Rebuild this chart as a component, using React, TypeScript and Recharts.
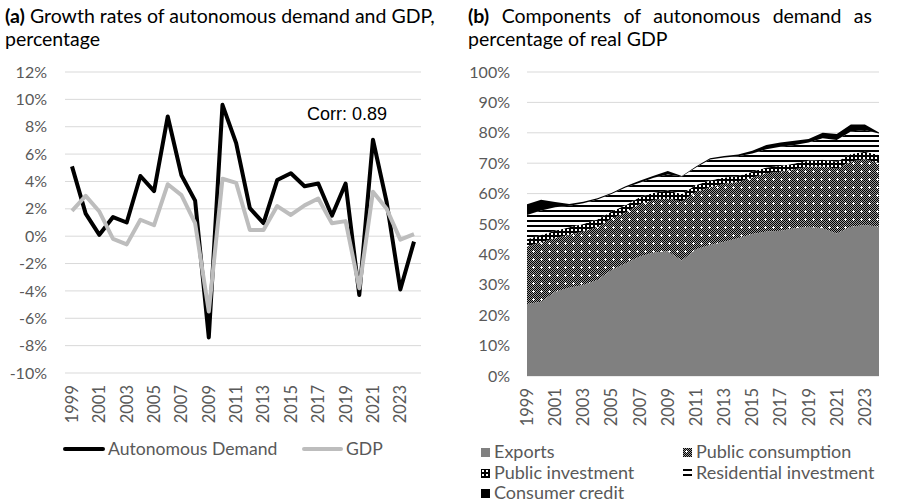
import { LineChart, Line, AreaChart, Area, XAxis, YAxis, CartesianGrid } from 'recharts'

const years = ['1999', '2000', '2001', '2002', '2003', '2004', '2005', '2006', '2007', '2008', '2009', '2010', '2011', '2012', '2013', '2014', '2015', '2016', '2017', '2018', '2019', '2020', '2021', '2022', '2023', '2024']

// panel (a): growth rates, %
const autonomousDemand = [5.1, 1.65, 0.1, 1.4, 1.0, 4.4, 3.3, 8.75, 4.45, 2.6, -7.4, 9.6, 6.8, 2.05, 0.95, 4.1, 4.6, 3.65, 3.85, 1.5, 3.85, -4.3, 7.05, 2.5, -3.9, -0.4]
const gdp = [1.85, 2.95, 1.8, -0.2, -0.6, 1.2, 0.8, 3.8, 3.0, 0.95, -5.5, 4.2, 3.9, 0.45, 0.45, 2.2, 1.55, 2.25, 2.75, 0.95, 1.1, -3.8, 3.25, 2.0, -0.25, 0.15]
const growthTicks = [-10, -8, -6, -4, -2, 0, 2, 4, 6, 8, 10, 12]

// panel (b): components, % of real GDP
const exportsShare = [23.7, 24.4, 27.7, 29.0, 29.9, 31.6, 34.9, 37.0, 39.3, 40.6, 41.0, 38.0, 41.7, 43.1, 44.2, 45.3, 46.7, 47.5, 47.8, 48.6, 49.1, 48.6, 46.9, 49.1, 49.7, 49.1]
const publicConsumption = [18.9, 19.6, 17.6, 17.5, 17.6, 17.4, 16.8, 16.8, 17.2, 17.3, 17.4, 19.4, 18.8, 19.0, 19.0, 18.5, 18.5, 19.2, 19.4, 19.4, 19.7, 20.3, 21.3, 21.5, 21.6, 21.0]
const publicInvestment = [2.4, 2.4, 2.5, 2.4, 2.5, 2.5, 2.4, 2.4, 2.3, 2.4, 2.6, 2.5, 2.3, 2.2, 2.1, 2.0, 2.0, 1.9, 1.9, 1.9, 2.0, 2.2, 2.3, 2.4, 2.5, 2.6]
const residentialInvestment = [8.0, 8.0, 7.7, 7.1, 6.8, 6.6, 5.8, 5.8, 4.8, 4.9, 5.3, 5.7, 5.8, 6.9, 6.6, 6.5, 6.0, 6.0, 6.3, 6.1, 6.0, 7.1, 7.1, 7.4, 7.1, 7.1]
const consumerCredit = [3.5, 3.6, 1.7, 0.6, 0.5, 0.4, 0.3, 0.4, 0.6, 0.7, 1.1, 0.2, 0.3, 0.4, 0.5, 0.6, 0.9, 1.4, 1.4, 1.4, 1.2, 1.8, 2.0, 2.3, 1.8, 0.3]
const shareTicks = [0, 10, 20, 30, 40, 50, 60, 70, 80, 90, 100]

const growthData = years.map((year, i) => ({
  year,
  'Autonomous Demand': autonomousDemand[i],
  GDP: gdp[i]
}))

const shareData = years.map((year, i) => ({
  year,
  Exports: exportsShare[i],
  'Public consumption': publicConsumption[i],
  'Public investment': publicInvestment[i],
  'Residential investment': residentialInvestment[i],
  'Consumer credit': consumerCredit[i]
}))

const FONT = 'Lato, "Noto Sans", sans-serif'
const GREY_TEXT = '#595959'

const YearTick = (props: any) => {
  const { x, y, payload } = props
  return (
    <text
      x={x}
      y={y}
      transform={`rotate(-90 ${x} ${y})`}
      textAnchor='end'
      dy='0.36em'
      fill={GREY_TEXT}
      fontSize={16.5}
      fontFamily={FONT}
    >
      {payload.value}
    </text>
  )
}

const Patterns = () => (
  <svg width={0} height={0} style={{ position: 'absolute' }}>
    <defs>
      <pattern id='chk' width='2' height='2' patternUnits='userSpaceOnUse'>
        <rect width='2' height='2' fill='#9a9a9a' />
        <rect width='1' height='1' fill='#000' />
        <rect x='1' y='1' width='1' height='1' fill='#000' />
      </pattern>
      <pattern id='pcPat' width='8' height='8' patternUnits='userSpaceOnUse'>
        <rect width='8' height='8' fill='url(#chk)' />
        <rect x='3' y='2' width='1' height='3' fill='#fff' />
        <rect x='2' y='3' width='3' height='1' fill='#fff' />
      </pattern>
      <pattern id='piPat' width='4' height='4' patternUnits='userSpaceOnUse'>
        <rect width='4' height='4' fill='#000' />
        <rect x='1' y='1' width='2' height='2' fill='#fff' />
      </pattern>
      <pattern id='riPat' width='8' height='5' patternUnits='userSpaceOnUse'>
        <rect width='8' height='5' fill='#fff' />
        <rect width='8' height='2' fill='#000' />
      </pattern>
    </defs>
  </svg>
)

const shareLegend = [
  { name: 'Exports', fill: '#808080', x: 481, y: 452 },
  { name: 'Public consumption', fill: 'url(#pcPat)', x: 683, y: 452 },
  { name: 'Public investment', fill: 'url(#piPat)', x: 481, y: 473 },
  { name: 'Residential investment', fill: 'url(#riPat)', x: 683, y: 473 },
  { name: 'Consumer credit', fill: '#000', x: 481, y: 493 }
]

export default function App () {
  return (
    <div style={{ position: 'absolute', left: 0, top: 0, width: 899, height: 502, background: '#fff', fontFamily: FONT, overflow: 'hidden' }}>
      <Patterns />

      {/* titles */}
      <div style={{ position: 'absolute', left: 5, top: 4, fontSize: 19.5, lineHeight: '23px', color: '#000', whiteSpace: 'nowrap' }}>
        <div><b>(a)</b> Growth rates of autonomous demand and GDP,</div>
        <div>percentage</div>
      </div>
      <div style={{ position: 'absolute', left: 468, top: 4, fontSize: 19.5, lineHeight: '23px', color: '#000' }}>
        <div style={{ width: 404, textAlign: 'justify', textAlignLast: 'justify', whiteSpace: 'nowrap' }}><b>(b)</b> Components of autonomous demand as</div>
        <div>percentage of real GDP</div>
      </div>

      {/* panel (a) */}
      <div style={{ position: 'absolute', left: 0, top: 0 }}>
        <LineChart width={440} height={430} data={growthData} margin={{ top: 72, right: 19, bottom: 0, left: 0 }}>
          <CartesianGrid vertical={false} stroke='#d9d9d9' />
          <XAxis dataKey='year' interval={1} tick={<YearTick />} tickLine={false} axisLine={false} height={57} tickSize={0} tickMargin={12} padding={{ left: 7, right: 7 }} />
          <YAxis width={65} domain={[-10, 12]} ticks={growthTicks} tickFormatter={v => `${v}%`} tickLine={false} axisLine={false} tickSize={0} tickMargin={18} tick={{ fill: GREY_TEXT, fontSize: 16, fontFamily: FONT }} />
          <Line dataKey='Autonomous Demand' stroke='#000' strokeWidth={4} dot={false} activeDot={false} strokeLinejoin='round' isAnimationActive={false} />
          <Line dataKey='GDP' stroke='#bdbdbd' strokeWidth={4} dot={false} activeDot={false} strokeLinejoin='round' isAnimationActive={false} />
        </LineChart>
      </div>
      <div style={{ position: 'absolute', left: 307, top: 104, fontFamily: '"Liberation Sans", Arial, sans-serif', fontSize: 18, color: '#000' }}>Corr: 0.89</div>

      {/* legend (a) */}
      <div style={{ position: 'absolute', left: 63, top: 447, width: 42, height: 4, background: '#000', borderRadius: 2 }} />
      <div style={{ position: 'absolute', left: 108, top: 438, fontSize: 17.6, lineHeight: '22px', color: GREY_TEXT }}>Autonomous Demand</div>
      <div style={{ position: 'absolute', left: 302, top: 447, width: 41, height: 4, background: '#bdbdbd', borderRadius: 2 }} />
      <div style={{ position: 'absolute', left: 346, top: 438, fontSize: 17.6, lineHeight: '22px', color: GREY_TEXT }}>GDP</div>

      {/* panel (b) */}
      <div style={{ position: 'absolute', left: 450, top: 0 }}>
        <AreaChart width={449} height={430} data={shareData} margin={{ top: 72, right: 20, bottom: 0, left: 0 }}>
          <CartesianGrid vertical={false} stroke='#d9d9d9' />
          <XAxis dataKey='year' interval={1} tick={<YearTick />} tickLine={false} axisLine={false} height={54} tickSize={0} tickMargin={12} />
          <YAxis width={77} domain={[0, 100]} ticks={shareTicks} tickFormatter={v => `${v}%`} tickLine={false} axisLine={false} tickSize={0} tickMargin={17} tick={{ fill: GREY_TEXT, fontSize: 16, fontFamily: FONT }} />
          <Area type='linear' dataKey='Exports' stackId='1' stroke='none' fill='#808080' fillOpacity={1} isAnimationActive={false} activeDot={false} />
          <Area type='linear' dataKey='Public consumption' stackId='1' stroke='none' fill='url(#pcPat)' fillOpacity={1} isAnimationActive={false} activeDot={false} />
          <Area type='linear' dataKey='Public investment' stackId='1' stroke='none' fill='url(#piPat)' fillOpacity={1} isAnimationActive={false} activeDot={false} />
          <Area type='linear' dataKey='Residential investment' stackId='1' stroke='none' fill='url(#riPat)' fillOpacity={1} isAnimationActive={false} activeDot={false} />
          <Area type='linear' dataKey='Consumer credit' stackId='1' stroke='none' fill='#000' fillOpacity={1} isAnimationActive={false} activeDot={false} />
        </AreaChart>
      </div>

      {/* legend (b) */}
      {shareLegend.map(item => (
        <div key={item.name}>
          <svg width={9} height={9} style={{ position: 'absolute', left: item.x, top: item.y - 4 }}>
            <rect width={9} height={9} fill={item.fill} />
          </svg>
          <div style={{ position: 'absolute', left: item.x + 13, top: item.y - 10, fontSize: 18, lineHeight: '19px', color: GREY_TEXT, whiteSpace: 'nowrap' }}>{item.name}</div>
        </div>
      ))}
    </div>
  )
}
